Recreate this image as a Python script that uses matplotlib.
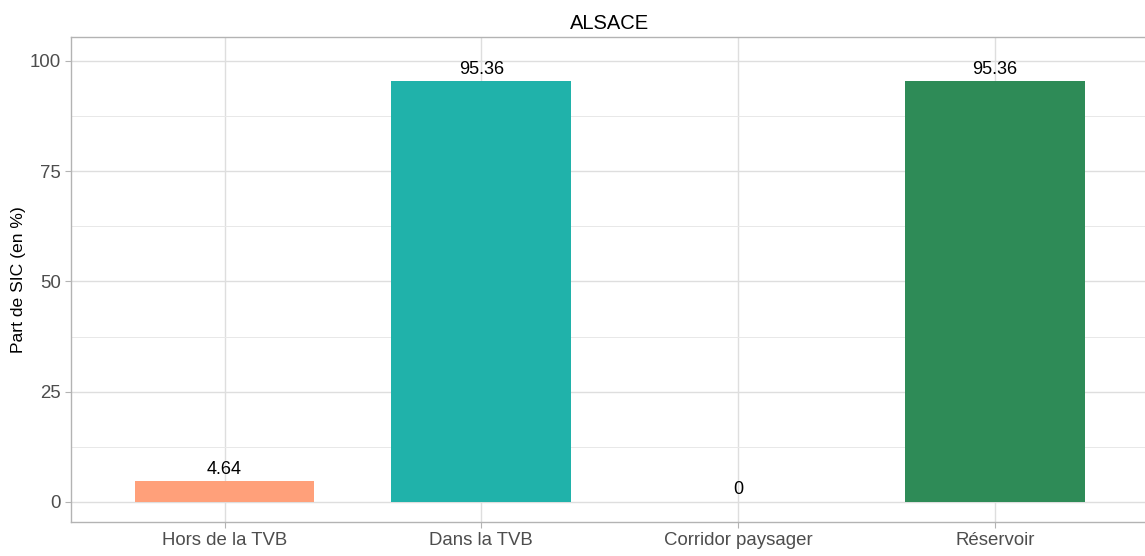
import matplotlib.pyplot as plt
from matplotlib.ticker import MultipleLocator

plt.rcParams['font.family'] = ['Liberation Sans', 'DejaVu Sans']

categories = ['Hors de la TVB', 'Dans la TVB', 'Corridor paysager', 'Réservoir']
values = [4.64, 95.36, 0, 95.36]
labels = ['4.64', '95.36', '0', '95.36']
colors = ['#FFA07A', '#20B2AA', '#3CB371', '#2E8B57']

fig = plt.figure(figsize=(11.45, 5.56), dpi=100)
ax = fig.add_axes([70.5 / 1145, 1 - 522 / 556, (1149 - 70.5) / 1145, (522 - 37) / 556])

x = range(len(categories))
ax.bar(x, values, width=0.7, color=colors, zorder=2)
for xi, v, lab in zip(x, values, labels):
    ax.annotate(lab, (xi, v), xytext=(0, 2.5), textcoords='offset points',
                ha='center', va='bottom', fontsize=13, color='black', zorder=3)

ax.set_xlim(-0.6, 3.6)
ax.set_ylim(-4.55, 105.4)
ax.set_xticks(list(x))
ax.set_xticklabels(categories)
ax.yaxis.set_major_locator(MultipleLocator(25))
ax.yaxis.set_minor_locator(MultipleLocator(12.5))

ax.grid(which='major', color='#DEDEDE', linewidth=1.0, zorder=0)
ax.grid(which='minor', axis='y', color='#E8E8E8', linewidth=0.7, zorder=0)
for s in ax.spines.values():
    s.set_color('#B3B3B3')
    s.set_linewidth(1.0)
ax.tick_params(which='major', length=4, color='#B3B3B3', labelsize=13.4, labelcolor='#4D4D4D', pad=3)
ax.tick_params(which='minor', length=0)

ax.set_title('ALSACE', fontsize=14.5, pad=6)
ax.set_ylabel('Part de SIC (en %)', fontsize=12.6, labelpad=2.7)

fig.savefig('out.png', dpi=100)
